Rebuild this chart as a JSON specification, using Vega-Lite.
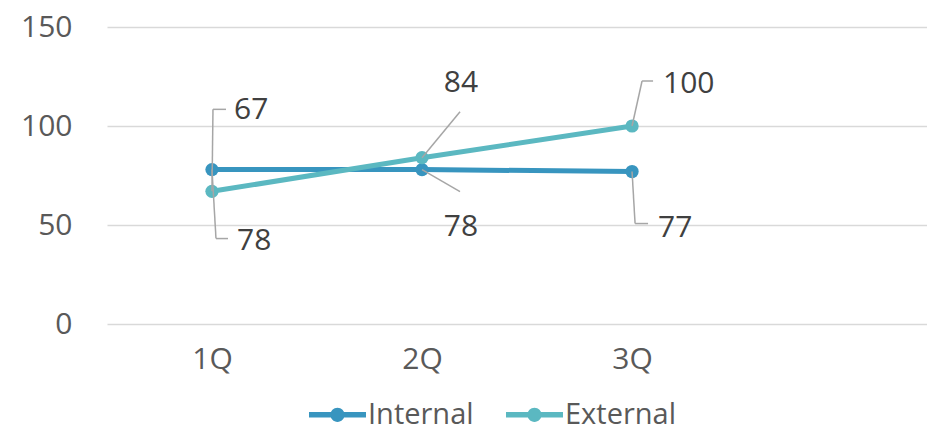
{
  "$schema": "https://vega.github.io/schema/vega-lite/v6.json",
  "width": 820,
  "height": 297,
  "autosize": {"type": "none"},
  "padding": {"left": 107, "top": 27, "right": 0, "bottom": 112},
  "background": "white",
  "config": {
    "view": {"stroke": null},
    "font": "Open Sans",
    "axis": {"labelFont": "Open Sans", "labelColor": "#595959", "labelFontSize": 30}
  },
  "data": {
    "values": [
      {"q": "1Q", "s": "Internal", "v": 78},
      {"q": "2Q", "s": "Internal", "v": 78},
      {"q": "3Q", "s": "Internal", "v": 77},
      {"q": "1Q", "s": "External", "v": 67},
      {"q": "2Q", "s": "External", "v": 84},
      {"q": "3Q", "s": "External", "v": 100}
    ]
  },
  "encoding": {
    "x": {
      "field": "q", "type": "ordinal",
      "scale": {"type": "point", "padding": 0.952, "align": 0.2625},
      "axis": {"title": null, "domain": false, "ticks": false, "labelAngle": 0, "labelPadding": 20, "grid": false}
    },
    "y": {
      "field": "v", "type": "quantitative",
      "scale": {"domain": [0, 150], "nice": false},
      "axis": {"title": null, "domain": false, "ticks": false, "values": [0, 50, 100, 150], "labelPadding": 35, "gridColor": "#D9D9D9", "gridWidth": 1.5}
    }
  },
  "layer": [
    {
      "transform": [{"filter": "datum.s === 'Internal'"}],
      "mark": {"type": "line", "strokeWidth": 5},
      "encoding": {
        "color": {
          "field": "s", "type": "nominal",
          "scale": {"domain": ["Internal", "External"], "range": ["#3895BF", "#5BB8C1"]},
          "legend": {
            "title": null, "orient": "none", "direction": "horizontal",
            "legendX": 202, "legendY": 359,
            "symbolType": "M-1,-0.1L1,-0.1L1,0.1L-1,0.1Z M0.25,0A0.25,0.25 0 1,1 -0.25,0A0.25,0.25 0 1,1 0.25,0Z",
            "symbolSize": 3249, "symbolStrokeWidth": 0,
            "labelFont": "Open Sans", "labelFontSize": 29, "labelColor": "#595959",
            "labelOffset": 2, "columnPadding": 32,
            "encode": {"symbols": {"update": {"fill": {"scale": "color", "field": "value"}, "stroke": {"value": "transparent"}, "opacity": {"value": 1}}}}
          }
        }
      }
    },
    {
      "transform": [{"filter": "datum.s === 'Internal'"}],
      "mark": {"type": "point", "filled": true, "size": 175, "opacity": 1},
      "encoding": {"color": {"field": "s", "type": "nominal"}}
    },
    {
      "transform": [{"filter": "datum.s === 'External'"}],
      "mark": {"type": "line", "strokeWidth": 5},
      "encoding": {"color": {"field": "s", "type": "nominal"}}
    },
    {
      "transform": [{"filter": "datum.s === 'External'"}],
      "mark": {"type": "point", "filled": true, "size": 175, "opacity": 1},
      "encoding": {"color": {"field": "s", "type": "nominal"}}
    },
    {
      "transform": [{"filter": "datum.q === '1Q' && datum.s === 'External'"}],
      "layer": [
        {"mark": {"type": "rule", "color": "#A6A6A6", "strokeWidth": 1.5, "x2Offset": 1, "y2Offset": -82}, "encoding": {"x2": {"field": "q"}, "y2": {"field": "v"}}},
        {"mark": {"type": "rule", "color": "#A6A6A6", "strokeWidth": 1.5, "xOffset": 1, "yOffset": -82, "x2Offset": 14, "y2Offset": -82}, "encoding": {"x2": {"field": "q"}, "y2": {"field": "v"}}},
        {"mark": {"type": "text", "align": "left", "baseline": "middle", "dx": 22, "dy": -81, "fontSize": 30, "color": "#404040"}, "encoding": {"text": {"field": "v"}}}
      ]
    },
    {
      "transform": [{"filter": "datum.q === '1Q' && datum.s === 'Internal'"}],
      "layer": [
        {"mark": {"type": "rule", "color": "#A6A6A6", "strokeWidth": 1.5, "x2Offset": 4, "y2Offset": 69}, "encoding": {"x2": {"field": "q"}, "y2": {"field": "v"}}},
        {"mark": {"type": "rule", "color": "#A6A6A6", "strokeWidth": 1.5, "xOffset": 4, "yOffset": 69, "x2Offset": 16, "y2Offset": 69}, "encoding": {"x2": {"field": "q"}, "y2": {"field": "v"}}},
        {"mark": {"type": "text", "align": "left", "baseline": "middle", "dx": 25, "dy": 71, "fontSize": 30, "color": "#404040"}, "encoding": {"text": {"field": "v"}}}
      ]
    },
    {
      "transform": [{"filter": "datum.q === '2Q' && datum.s === 'External'"}],
      "layer": [
        {"mark": {"type": "rule", "color": "#A6A6A6", "strokeWidth": 1.5, "x2Offset": 38, "y2Offset": -46}, "encoding": {"x2": {"field": "q"}, "y2": {"field": "v"}}},
        {"mark": {"type": "text", "align": "center", "baseline": "middle", "dx": 39, "dy": -75, "fontSize": 30, "color": "#404040"}, "encoding": {"text": {"field": "v"}}}
      ]
    },
    {
      "transform": [{"filter": "datum.q === '2Q' && datum.s === 'Internal'"}],
      "layer": [
        {"mark": {"type": "rule", "color": "#A6A6A6", "strokeWidth": 1.5, "x2Offset": 38, "y2Offset": 22}, "encoding": {"x2": {"field": "q"}, "y2": {"field": "v"}}},
        {"mark": {"type": "text", "align": "center", "baseline": "middle", "dx": 39, "dy": 57, "fontSize": 30, "color": "#404040"}, "encoding": {"text": {"field": "v"}}}
      ]
    },
    {
      "transform": [{"filter": "datum.q === '3Q' && datum.s === 'External'"}],
      "layer": [
        {"mark": {"type": "rule", "color": "#A6A6A6", "strokeWidth": 1.5, "x2Offset": 10, "y2Offset": -45}, "encoding": {"x2": {"field": "q"}, "y2": {"field": "v"}}},
        {"mark": {"type": "rule", "color": "#A6A6A6", "strokeWidth": 1.5, "xOffset": 10, "yOffset": -45, "x2Offset": 21, "y2Offset": -45}, "encoding": {"x2": {"field": "q"}, "y2": {"field": "v"}}},
        {"mark": {"type": "text", "align": "left", "baseline": "middle", "dx": 31, "dy": -42, "fontSize": 30, "color": "#404040"}, "encoding": {"text": {"field": "v"}}}
      ]
    },
    {
      "transform": [{"filter": "datum.q === '3Q' && datum.s === 'Internal'"}],
      "layer": [
        {"mark": {"type": "rule", "color": "#A6A6A6", "strokeWidth": 1.5, "x2Offset": 3, "y2Offset": 52}, "encoding": {"x2": {"field": "q"}, "y2": {"field": "v"}}},
        {"mark": {"type": "rule", "color": "#A6A6A6", "strokeWidth": 1.5, "xOffset": 3, "yOffset": 52, "x2Offset": 16, "y2Offset": 52}, "encoding": {"x2": {"field": "q"}, "y2": {"field": "v"}}},
        {"mark": {"type": "text", "align": "left", "baseline": "middle", "dx": 26, "dy": 56, "fontSize": 30, "color": "#404040"}, "encoding": {"text": {"field": "v"}}}
      ]
    }
  ]
}
